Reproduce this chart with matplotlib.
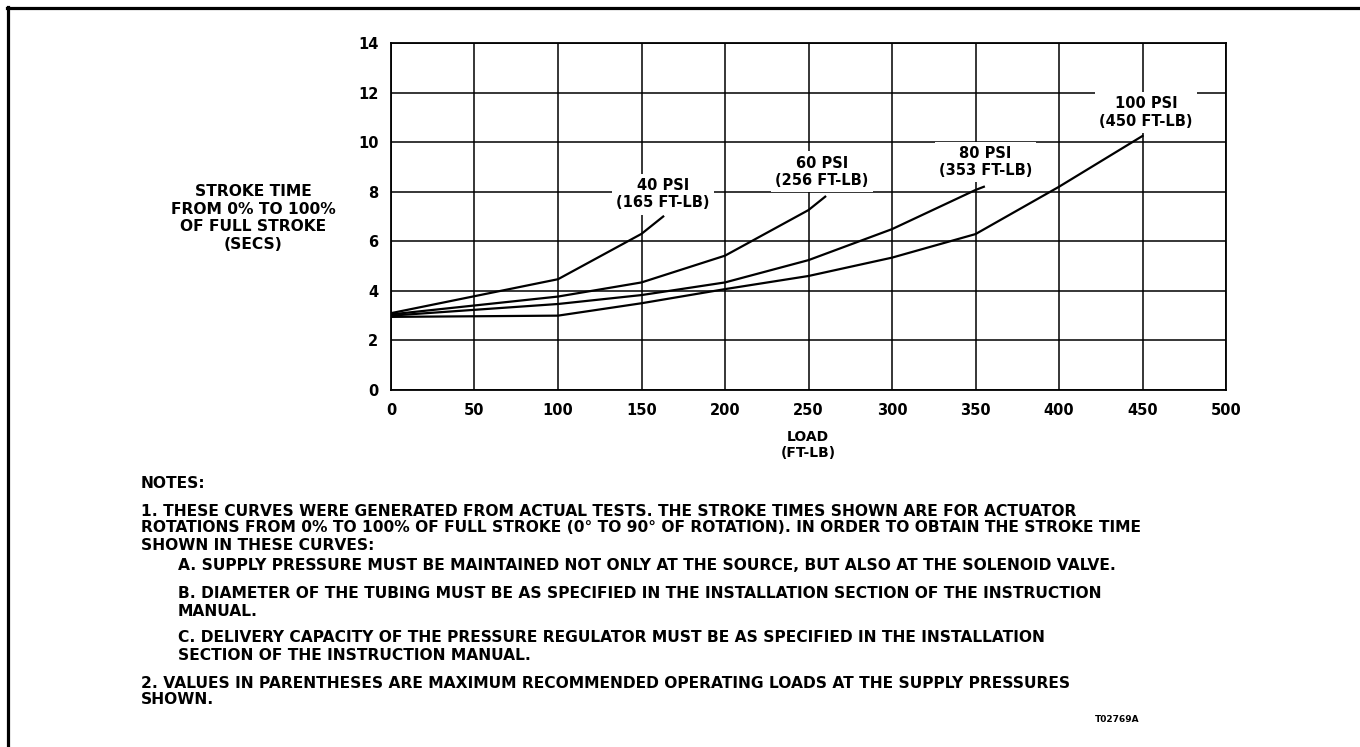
import matplotlib.pyplot as plt
from matplotlib.lines import Line2D

plt.rcParams['font.family'] = ['DejaVu Sans']

# Stroke time curves (load in FT-LB, time in s)
load_40 = [0, 100, 150, 163]
time_40 = [3.1, 4.47, 6.3, 7.0]

load_60 = [0, 100, 150, 200, 250, 260]
time_60 = [3.05, 3.77, 4.34, 5.42, 7.26, 7.8]

load_80 = [0, 100, 150, 200, 250, 300, 350, 355]
time_80 = [3.0, 3.47, 3.83, 4.34, 5.24, 6.49, 8.07, 8.2]

load_100 = [0, 100, 150, 200, 250, 300, 350, 400, 450]
time_100 = [2.95, 3.0, 3.5, 4.07, 4.6, 5.34, 6.29, 8.2, 10.25]

curve_labels = ["40 PSI\n(165 FT-LB)", "60 PSI\n(256 FT-LB)",
                "80 PSI\n(353 FT-LB)", "100 PSI\n(450 FT-LB)"]
label_pos = [(163, 7.9), (258, 8.8), (356, 9.2), (452, 11.2)]

x_ticks = [0, 50, 100, 150, 200, 250, 300, 350, 400, 450, 500]
y_ticks = [0, 2, 4, 6, 8, 10, 12, 14]

notes = [
    (141, 483, "NOTES:"),
    (141, 511, "1. THESE CURVES WERE GENERATED FROM ACTUAL TESTS. THE STROKE TIMES SHOWN ARE FOR ACTUATOR"),
    (141, 528, "ROTATIONS FROM 0% TO 100% OF FULL STROKE (0\u00b0 TO 90\u00b0 OF ROTATION). IN ORDER TO OBTAIN THE STROKE TIME"),
    (141, 545, "SHOWN IN THESE CURVES:"),
    (178, 565, "A. SUPPLY PRESSURE MUST BE MAINTAINED NOT ONLY AT THE SOURCE, BUT ALSO AT THE SOLENOID VALVE."),
    (178, 593, "B. DIAMETER OF THE TUBING MUST BE AS SPECIFIED IN THE INSTALLATION SECTION OF THE INSTRUCTION"),
    (178, 611, "MANUAL."),
    (178, 638, "C. DELIVERY CAPACITY OF THE PRESSURE REGULATOR MUST BE AS SPECIFIED IN THE INSTALLATION"),
    (178, 656, "SECTION OF THE INSTRUCTION MANUAL."),
    (141, 683, "2. VALUES IN PARENTHESES ARE MAXIMUM RECOMMENDED OPERATING LOADS AT THE SUPPLY PRESSURES"),
    (141, 700, "SHOWN."),
]

W, H = 1360, 747
fig = plt.figure(figsize=(13.6, 7.47), dpi=100)
ax = fig.add_axes([391 / W, 1 - 390 / H, (1226 - 391) / W, (390 - 43) / H])

for xs, ys in [(load_40, time_40), (load_60, time_60),
               (load_80, time_80), (load_100, time_100)]:
    ax.plot(xs, ys, color='black', lw=1.6, zorder=3)

for txt, (lx, ly) in zip(curve_labels, label_pos):
    ax.text(lx, ly, txt, ha='center', va='center', fontsize=10.5,
            fontweight='bold', linespacing=1.2, zorder=4,
            bbox=dict(fc='white', ec='none', pad=3))

ax.set_xlim(0, 500)
ax.set_ylim(0, 14)
ax.set_xticks(x_ticks)
ax.set_yticks(y_ticks)
ax.grid(True, color='black', lw=1.1)
ax.tick_params(length=0, labelsize=10.5, pad=9)
for lab in ax.get_xticklabels() + ax.get_yticklabels():
    lab.set_fontweight('bold')
for sp in ax.spines.values():
    sp.set_linewidth(1.3)

fig.text(808 / W, 1 - 445 / H, "LOAD\n(FT-LB)", ha='center', va='center',
         fontsize=10, fontweight='bold', linespacing=1.2)
fig.text(253 / W, 1 - 218 / H, "STROKE TIME\nFROM 0% TO 100%\nOF FULL STROKE\n(SECS)",
         ha='center', va='center', fontsize=11.2, fontweight='bold', linespacing=1.22)

for nx, ny, line in notes:
    fig.text(nx / W, 1 - ny / H, line, ha='left', va='center',
             fontsize=11.2, fontweight='bold')
fig.text(1117 / W, 1 - 719 / H, "T02769A", ha='center', va='center',
         fontsize=6.5, fontweight='bold')

# page border on left and top
fig.add_artist(Line2D([8 / W, 8 / W], [0, 1 - 7 / H], color='black', lw=2.3))
fig.add_artist(Line2D([7 / W, 1], [1 - 8 / H, 1 - 8 / H], color='black', lw=2.3))

fig.savefig('out.png', dpi=100, facecolor='white')
